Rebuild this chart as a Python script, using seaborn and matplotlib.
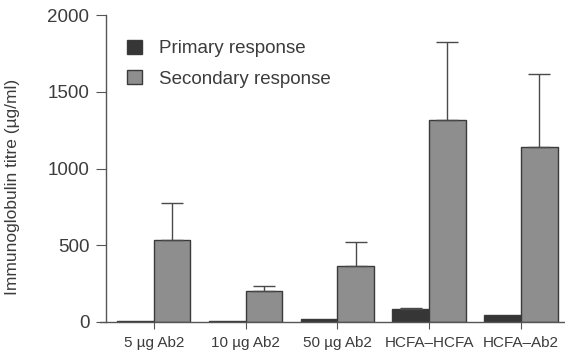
import pandas as pd
import seaborn as sns
import matplotlib.pyplot as plt

# values
groups = ['5 \u00b5g Ab2', '10 \u00b5g Ab2', '50 \u00b5g Ab2', 'HCFA\u2013HCFA', 'HCFA\u2013Ab2']
primary = [8, 7, 22, 83, 47]
primary_err = [0, 0, 0, 10, 0]
secondary = [532, 205, 366, 1315, 1142]
secondary_err = [242, 30, 156, 508, 474]
series = ['Primary response', 'Secondary response']

df = pd.DataFrame({
    'group': groups * 2,
    'titre': primary + secondary,
    'err': primary_err + secondary_err,
    'response': [series[0]] * len(groups) + [series[1]] * len(groups),
})

sns.set_style('ticks')
plt.rcParams['font.family'] = ['Liberation Sans', 'DejaVu Sans']
txt = '#3c3c3c'

fig = plt.figure(figsize=(5.65, 3.56), dpi=100)
ax = fig.add_axes([100 / 565, 1 - 322 / 356, 1 - 100 / 565, 307 / 356])

sns.barplot(data=df, x='group', y='titre', hue='response', order=groups,
            palette={series[0]: '#363636', series[1]: '#8e8e8e'},
            edgecolor='#3a3a3a', linewidth=1.0, width=0.8, errorbar=None, ax=ax)

# one-sided (upper) error bars, placed on the bars seaborn drew
for cont, errs in zip(ax.containers, [primary_err, secondary_err]):
    for bar, e in zip(cont, errs):
        if e <= 0:
            continue
        xc = bar.get_x() + bar.get_width() / 2
        h = bar.get_height()
        ax.errorbar(xc, h, yerr=[[0], [e]], fmt='none', ecolor='#4a4a4a',
                    elinewidth=1.0, capsize=8, capthick=1.0)

ax.set_ylim(0, 2000)
ax.set_xlim(-0.585, 4.48)
ax.set_yticks([0, 500, 1000, 1500, 2000])
ax.spines['left'].set_position(('data', -0.52))
ax.spines['top'].set_visible(False)
ax.spines['right'].set_visible(False)
for s in ['left', 'bottom']:
    ax.spines[s].set_color('#555555')
    ax.spines[s].set_linewidth(1.0)

ax.tick_params(axis='y', labelsize=13.5, colors='#555555', labelcolor=txt, length=7, pad=5)
ax.tick_params(axis='x', labelsize=11, colors='#555555', labelcolor=txt, length=5, pad=5)
ax.set_xlabel('')
ax.set_ylabel('Immunoglobulin titre (\u00b5g/ml)', fontsize=12.5, color=txt)
ax.yaxis.set_label_coords(-0.172, 0.44)

handles, labels = ax.get_legend_handles_labels()
ax.legend(handles, labels, loc='upper left', bbox_to_anchor=(0.022, 0.975),
          frameon=False, fontsize=13.5, handlelength=0.8, handleheight=0.8,
          labelspacing=0.68, handletextpad=0.9, labelcolor=txt)

fig.savefig('out.png', dpi=100)
